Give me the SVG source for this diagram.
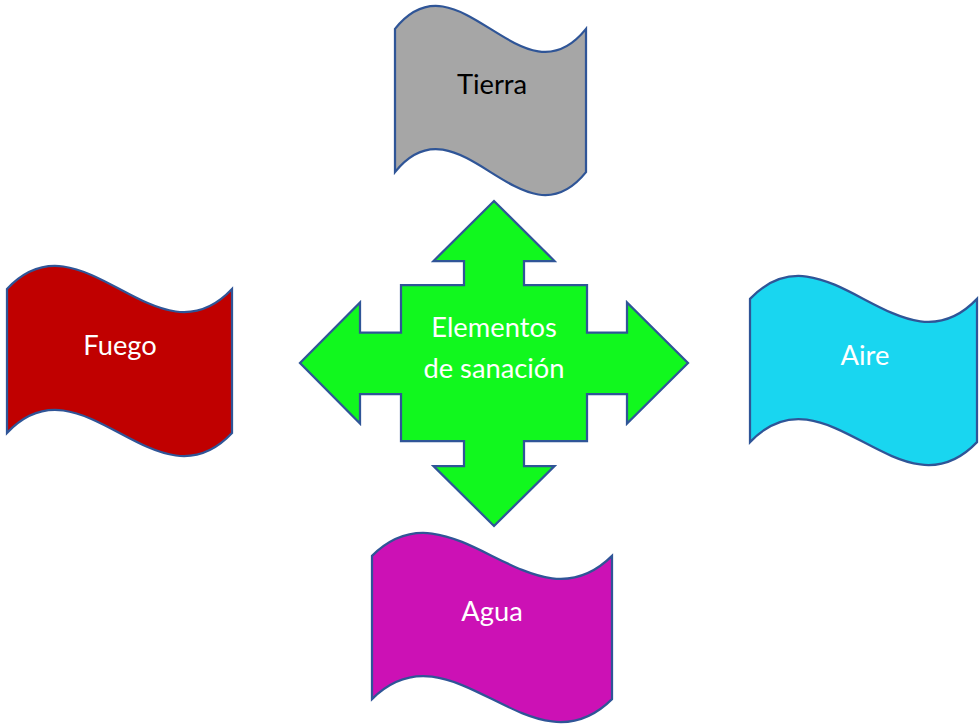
<svg xmlns="http://www.w3.org/2000/svg" width="980" height="726" viewBox="0 0 980 726">
<style>
.shape{stroke:#2F5597;stroke-width:2.25;stroke-linejoin:miter}
.lbl{font-family:Lato,"Open Sans","Liberation Sans",sans-serif;font-size:27.3px;text-anchor:middle}
.w{fill:#FFFFFF}
.k{fill:#000000}
</style>
<rect width="980" height="726" fill="#FFFFFF"/>
<g id="centro">
<polygon class="shape" fill="#11F81E" points="494,201 554.5,261 524,261 524,285 587,285 587,332.5 627,332.5 627,302.5 688,363 627,423.5 627,394 587,394 587,441 524,441 524,466 554.5,466 494,526 433.5,466 464,466 464,441 401,441 401,394 360,394 360,423.5 300,363 360,302.5 360,332.5 401,332.5 401,285 464,285 464,261 433.5,261"/>
<text class="lbl w" x="494" y="337">Elementos</text>
<text class="lbl w" x="494" y="378">de sanación</text>
</g>
<g id="tierra">
<path class="shape" fill="#A6A6A6" d="M395,28.9 C458.7,-50.7 522.3,108.5 586,28.9 L586,172.1 C522.3,251.7 458.7,92.5 395,172.1 Z"/>
<text class="lbl k" x="492" y="94">Tierra</text>
</g>
<g id="fuego">
<path class="shape" fill="#C00000" d="M7,289 C82,209 157,369 232,289 L232,433 C157,513 82,353 7,433 Z"/>
<text class="lbl w" x="120" y="355">Fuego</text>
</g>
<g id="aire">
<path class="shape" fill="#19D6F0" d="M750,298.9 C825.7,219.3 901.3,378.5 977,298.9 L977,442.1 C901.3,521.7 825.7,362.5 750,442.1 Z"/>
<text class="lbl w" x="865" y="365">Aire</text>
</g>
<g id="agua">
<path class="shape" fill="#CC11B5" d="M372,555.9 C452,476.3 532,635.5 612,555.9 L612,699.1 C532,778.7 452,619.5 372,699.1 Z"/>
<text class="lbl w" x="492" y="621">Agua</text>
</g>
</svg>
